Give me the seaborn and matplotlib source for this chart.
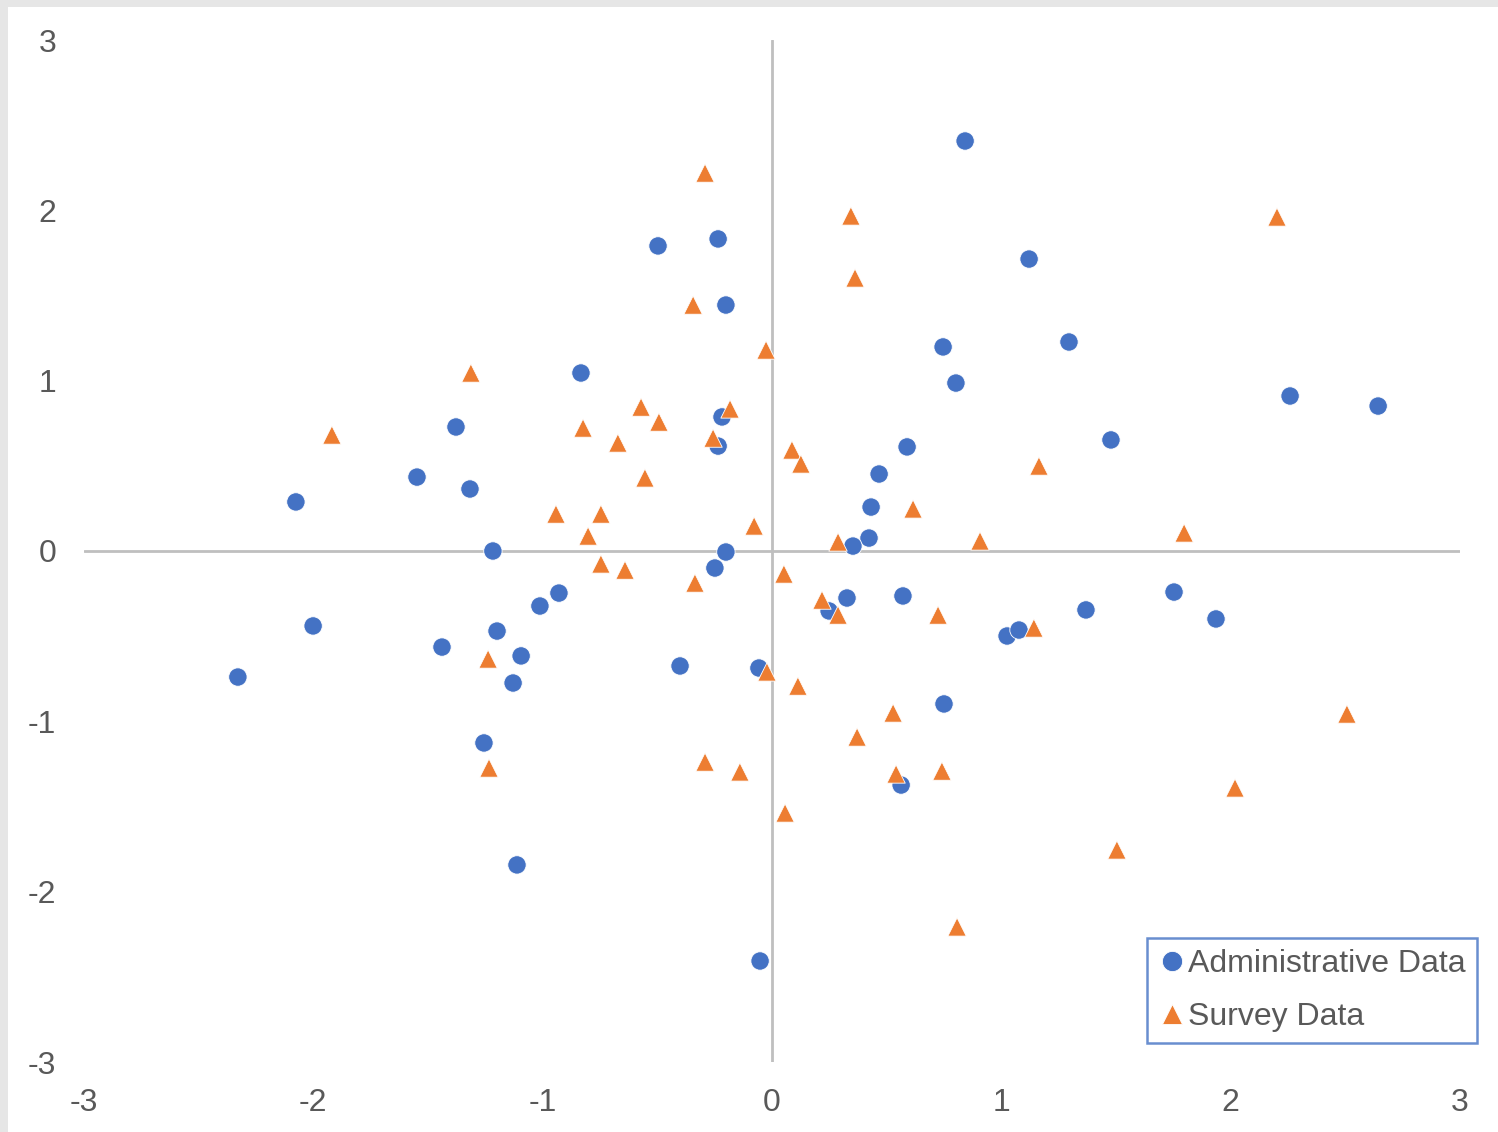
import matplotlib
matplotlib.use("Agg")
import matplotlib.pyplot as plt
import matplotlib.patches as mpatches
import seaborn as sns
import pandas as pd
import numpy as np

# values
admin_x = [0.842, -0.497, -0.235, -0.201, 1.121, 0.746, 1.295, 0.802, 2.259, 2.643,
           1.478, 0.589, 0.467, 0.432, 0.423, 0.353, -0.833, -1.378, -1.548, -1.317,
           -2.076, -1.217, -0.218, -0.235, -0.201, -0.249, -0.929, -1.012, -1.199, -1.094,
           -1.129, -1.439, -2.001, -2.329, -1.256, -1.112, -0.401, -0.057, -0.052, 0.249,
           0.327, 0.571, 0.563, 0.750, 1.025, 1.077, 1.369, 1.753, 1.936]
admin_y = [2.407, 1.791, 1.832, 1.444, 1.714, 1.198, 1.227, 0.986, 0.910, 0.851,
           0.652, 0.611, 0.452, 0.258, 0.076, 0.029, 1.045, 0.728, 0.434, 0.364,
           0.288, 0.000, 0.787, 0.616, -0.006, -0.100, -0.247, -0.323, -0.470, -0.616,
           -0.775, -0.564, -0.440, -0.740, -1.127, -1.843, -0.675, -0.687, -2.407, -0.352,
           -0.276, -0.264, -1.374, -0.898, -0.499, -0.464, -0.346, -0.241, -0.399]

survey_x = [-0.292, 0.344, 2.202, 0.362, -0.344, -0.026, -1.313, -1.919, -0.571, -0.493,
            -0.824, -0.672, -0.183, -0.257, -0.554, 0.087, 0.126, 1.164, -0.942, -0.746,
            -0.802, -0.078, 0.615, 0.288, 0.907, 1.797, -0.746, -0.641, -0.336, 0.052,
            0.218, 0.288, 0.724, 1.142, -1.238, -0.022, 0.113, 0.528, 0.371, 2.507,
            -0.292, -0.140, -1.234, 0.541, 0.741, 0.057, 2.019, 1.504, 0.807]
survey_y = [2.219, 1.967, 1.961, 1.603, 1.444, 1.180, 1.045, 0.681, 0.845, 0.757,
            0.722, 0.634, 0.834, 0.663, 0.429, 0.593, 0.511, 0.499, 0.217, 0.217,
            0.088, 0.147, 0.247, 0.053, 0.059, 0.106, -0.076, -0.112, -0.188, -0.135,
            -0.288, -0.376, -0.376, -0.452, -0.634, -0.710, -0.793, -0.951, -1.092, -0.957,
            -1.239, -1.297, -1.274, -1.309, -1.292, -1.538, -1.391, -1.755, -2.207]

ticks = [-3, -2, -1, 0, 1, 2, 3]

df = pd.concat([
    pd.DataFrame({"x": admin_x, "y": admin_y, "series": "Administrative Data"}),
    pd.DataFrame({"x": survey_x, "y": survey_y, "series": "Survey Data"}),
], ignore_index=True)

sns.set_style("white")
plt.rcParams["font.family"] = ["Liberation Sans", "DejaVu Sans"]
plt.rcParams["axes.unicode_minus"] = False

fig = plt.figure(figsize=(14.98, 11.32), dpi=100)
fig.patch.set_facecolor("white")
# light grey window border on the left / top
fig.patches.append(mpatches.Rectangle((0, 0), 8 / 1498, 1, transform=fig.transFigure,
                                      facecolor="#e6e6e6", edgecolor="none", zorder=0))
fig.patches.append(mpatches.Rectangle((0, 1 - 7 / 1132), 1, 7 / 1132, transform=fig.transFigure,
                                      facecolor="#e6e6e6", edgecolor="none", zorder=0))

ax = fig.add_axes([84 / 1498, 70 / 1132, 1376 / 1498, 1022 / 1132])
ax.set_facecolor("none")

sns.scatterplot(data=df, x="x", y="y", hue="series", style="series",
                palette={"Administrative Data": "#4472C4", "Survey Data": "#ED7D31"},
                markers={"Administrative Data": "o", "Survey Data": "^"},
                s=175, edgecolor="white", linewidth=0.6, ax=ax, zorder=3)

ax.set_xlim(-3, 3)
ax.set_ylim(-3, 3)
ax.set_xticks(ticks)
ax.set_yticks(ticks)
for s in ax.spines.values():
    s.set_visible(False)
ax.axhline(0, color="#bfbfbf", lw=2, zorder=1)
ax.axvline(0, color="#bfbfbf", lw=2, zorder=1)
ax.tick_params(axis="both", length=0, labelsize=23, labelcolor="#595959")
ax.tick_params(axis="x", pad=19)
ax.tick_params(axis="y", pad=20)
ax.set_xlabel("")
ax.set_ylabel("")

handles, labels = ax.get_legend_handles_labels()
leg = ax.legend(handles, labels, loc="lower right",
                bbox_to_anchor=(1477 / 1498, 89 / 1132), bbox_transform=fig.transFigure,
                borderaxespad=0, frameon=True, fancybox=False, fontsize=23,
                handletextpad=0.05, handlelength=0.9, borderpad=0.35,
                labelspacing=0.72, markerscale=1.1)
leg.get_frame().set_edgecolor("#4472C4")
leg.get_frame().set_linewidth(1.8)
for t in leg.get_texts():
    t.set_color("#595959")

fig.savefig("out.png", dpi=100)
